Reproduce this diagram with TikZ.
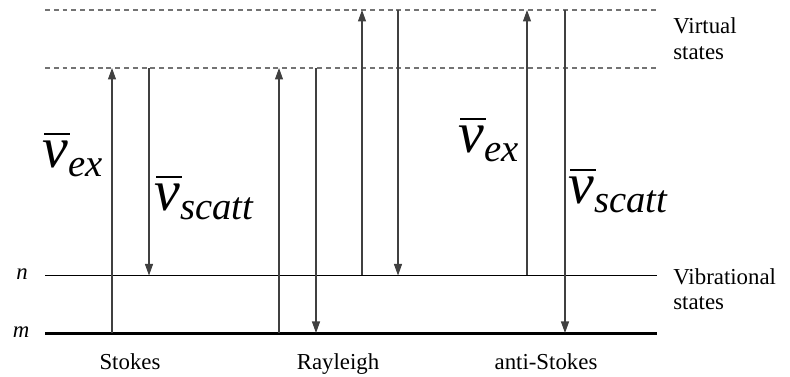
\documentclass[tikz,border=0pt]{standalone}
\usepackage{fontspec}
\setmainfont{Liberation Serif}
\usetikzlibrary{arrows.meta}

\newcommand{\wnum}[1]{{\itshape\fontsize{33}{33}\selectfont
    \rlap{\hspace{1pt}\rule[19pt]{14.5pt}{1.2pt}}ν\raisebox{-5.1pt}{\fontsize{22}{22}\selectfont #1}}}

\tikzset{
  virt/.style={draw=black!55, line width=0.6pt, dash pattern=on 2.8pt off 2.2pt},
  vib/.style={draw=black, line width=0.6pt},
  ground/.style={draw=black, line width=1.8pt},
  trans/.style={draw=black!75, line width=0.6pt,
    -{Triangle[length=2.3mm,width=1.6mm]}},
  lbl/.style={font=\fontsize{13}{15}\selectfont, inner sep=0pt, anchor=base},
  wn/.style={inner sep=0pt, anchor=base west}
}

\begin{document}
\begin{tikzpicture}[x=0.02cm,y=-0.02cm]

  \useasboundingbox (0,0) rectangle (790,377);

  % energy levels
  \coordinate (vtL) at (45,10);   \coordinate (vtR) at (657,10);
  \coordinate (vlL) at (45,68);   \coordinate (vlR) at (657,68);
  \coordinate (nL) at (45,275.5); \coordinate (nR) at (657,275.5);
  \coordinate (mL) at (45,333.5); \coordinate (mR) at (657,333.5);
  \draw[virt] (vtL) -- (vtR);
  \draw[virt] (vlL) -- (vlR);
  \draw[vib] (nL) -- (nR);
  \draw[ground] (mL) -- (mR);

  % transitions
  \foreach \t/\x/\ya/\yb in
  {s1/112/333/68, s2/149/68/275.5,
    r1/279/333/68, r2/316/68/333,
    r3/362/275.5/10, r4/398/10/275.5,
    a1/527/275.5/10, a2/565/10/333}
  {
    \coordinate (\t a) at (\x,\ya);
    \coordinate (\t b) at (\x,\yb);
    \draw[trans] (\t a) -- (\t b);
  }

  % wavenumbers
  \node[wn] (ex1) at (42,168) {\wnum{ex}};
  \node[wn] (sc1) at (154,211) {\wnum{scatt}};
  \node[wn] (ex2) at (458,153) {\wnum{ex}};
  \node[wn] (sc2) at (568,204) {\wnum{scatt}};

  % level names
  \node[lbl] (lvn) at (22,280) {\textit{n}};
  \node[lbl] (lvm) at (21,338) {\textit{m}};
  \node[lbl, anchor=base west] (virt1) at (673,34) {Virtual};
  \node[lbl, anchor=base west] (virt2) at (673,60) {states};
  \node[lbl, anchor=base west] (vib1) at (673,285) {Vibrational};
  \node[lbl, anchor=base west] (vib2) at (673,310) {states};

  % processes
  \node[lbl] (stokes) at (130,370) {Stokes};
  \node[lbl] (rayleigh) at (338,370) {Rayleigh};
  \node[lbl] (anti) at (546,370) {anti-Stokes};

\end{tikzpicture}
\end{document}
